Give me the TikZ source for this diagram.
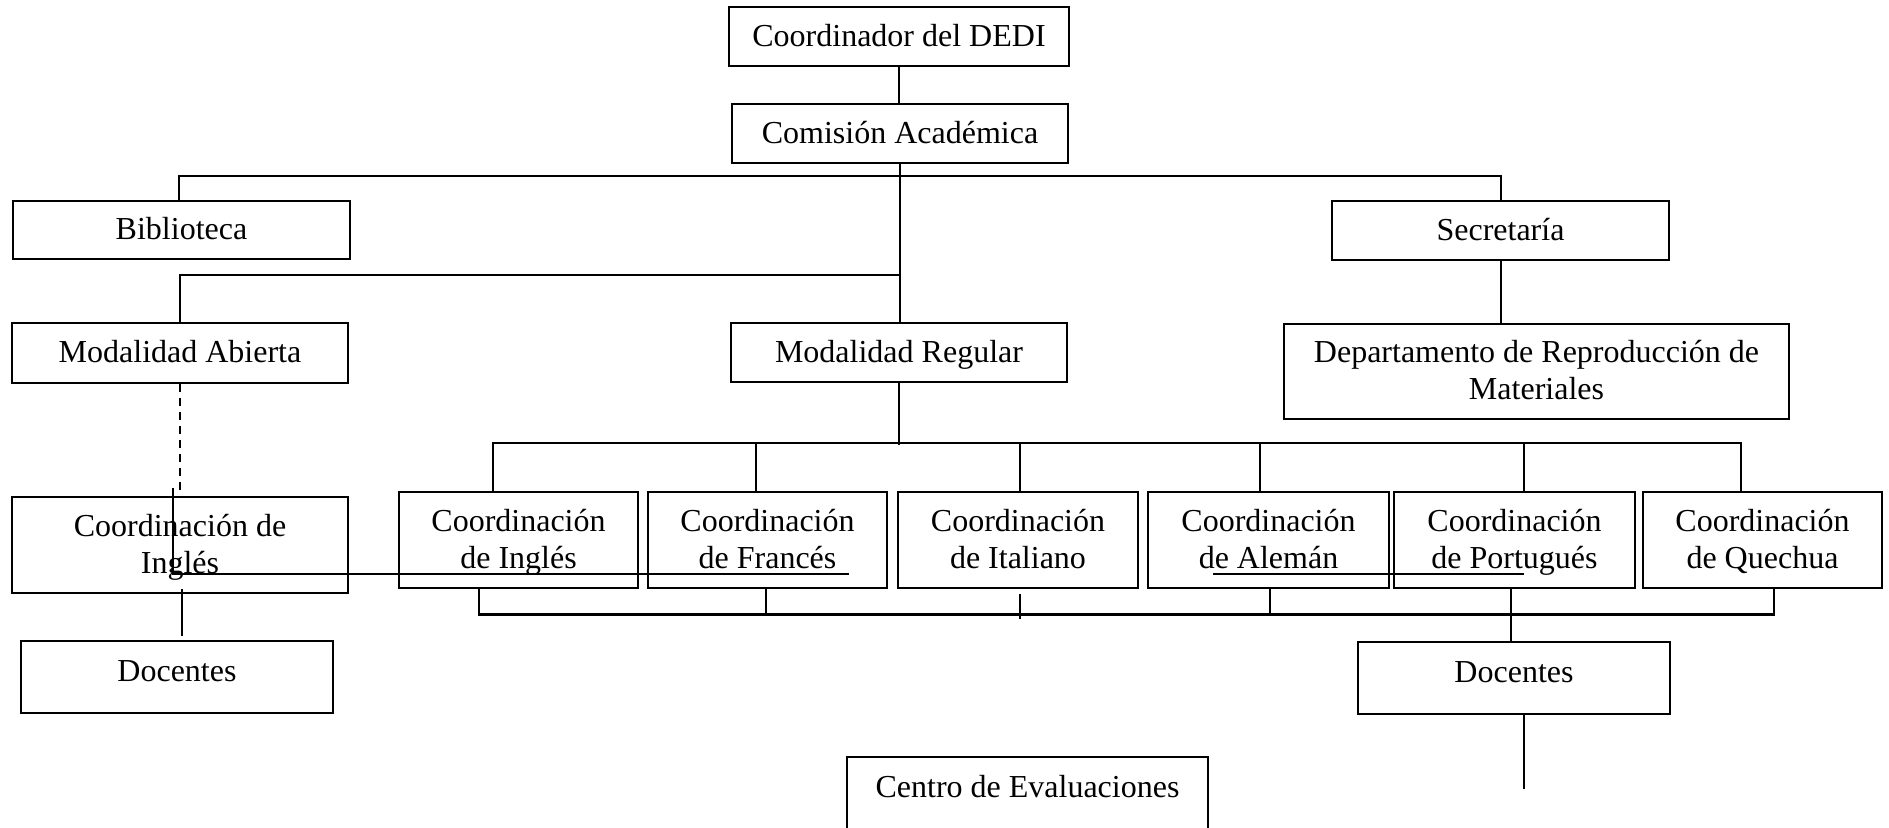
\documentclass[tikz,border=0pt]{standalone}
\usepackage{fontspec}
\setmainfont{Liberation Serif}
\usetikzlibrary{calc}
\newcommand\orgtxt[1]{\begin{tabular}{@{}c@{}}#1\end{tabular}}
\tikzset{
  orgbox/.style={draw, line width=1.2pt, inner sep=0pt,
    font=\fontsize{16pt}{18.5pt}\selectfont,
    text height=20pt, text depth=8.84pt},
  conn/.style={line width=1pt},
  busline/.style={line width=1.3pt},
}
\begin{document}
\begin{tikzpicture}[x=0.5pt,y=-0.5pt]
\useasboundingbox (0,0) rectangle (1889,828);

% boxes
\node[orgbox, minimum width=170pt, minimum height=29.5pt] (dedi) at (899,36.5) {\orgtxt{Coordinador del DEDI}};
\node[orgbox, minimum width=168pt, minimum height=29.5pt] (comision) at (900,133.5) {\orgtxt{Comisión Académica}};
\node[orgbox, minimum width=168.5pt, minimum height=29pt] (biblio) at (181.5,230) {\orgtxt{Biblioteca}};
\node[orgbox, minimum width=168.5pt, minimum height=29.5pt] (secre) at (1500.5,230.5) {\orgtxt{Secretaría}};
\node[orgbox, minimum width=168pt, minimum height=30pt] (abierta) at (180,353) {\orgtxt{Modalidad Abierta}};
\node[orgbox, minimum width=168pt, minimum height=29.5pt] (regular) at (899,352.5) {\orgtxt{Modalidad Regular}};
\node[orgbox, minimum width=252.5pt, minimum height=47.5pt] (depto) at (1536.5,371.5) {\orgtxt{Departamento de Reproducción de\\Materiales}};

\node[orgbox, minimum width=168pt, minimum height=48pt] (coordL) at (180,545) {\orgtxt{Coordinación de\\Inglés}};
\node[orgbox, minimum width=119.5pt, minimum height=48pt] (ci) at (518.5,540) {\orgtxt{Coordinación\\de Inglés}};
\node[orgbox, minimum width=119.5pt, minimum height=48pt] (cf) at (767.5,540) {\orgtxt{Coordinación\\de Francés}};
\node[orgbox, minimum width=120pt, minimum height=48pt] (cit) at (1018,540) {\orgtxt{Coordinación\\de Italiano}};
\node[orgbox, minimum width=120.5pt, minimum height=48pt] (ca) at (1268.5,540) {\orgtxt{Coordinación\\de Alemán}};
\node[orgbox, minimum width=120.5pt, minimum height=48pt] (cp) at (1514.5,540) {\orgtxt{Coordinación\\de Portugués}};
\node[orgbox, minimum width=119.5pt, minimum height=48pt] (cq) at (1762.5,540) {\orgtxt{Coordinación\\de Quechua}};

\node[orgbox, text depth=13.84pt, minimum width=156pt, minimum height=36pt] (docL) at (177,677) {\orgtxt{Docentes}};
\node[orgbox, text depth=13.84pt, minimum width=156pt, minimum height=36pt] (docR) at (1514,678) {\orgtxt{Docentes}};

\node[draw, line width=1.2pt, inner sep=0pt, font=\fontsize{16pt}{18.5pt}\selectfont,
  minimum width=180.5pt, text height=20pt, text depth=31.5pt, anchor=base]
  (centro) at (1027.5,797) {Centro de Evaluaciones};

% top connectors
\draw[conn] (dedi.south) -- (dedi.south |- comision.north);
\draw[conn] (comision.south) -- (comision.south |- regular.north);
\draw[conn] ($(biblio.north)+(-2.5,0)$) -- ++(0,-24) -| (secre.north);
\draw[conn] (abierta.north) -- ++(0,-47) -| (comision.south);
\draw[conn] (secre.south) -- (secre.south |- depto.north);

% upper bus of coordinations
\draw[conn] (regular.south) -- ++(0,62);
\draw[busline] ($(ci.north)+(-25.5,0)$) |- ($(cq.north)+(-21.5,-48)$) -- ($(cq.north)+(-21.5,0)$);
\draw[conn] ($(cf.north)+(-11.5,0)$) -- ++(0,-48);
\draw[conn] ($(cit.north)+(2,0)$) -- ++(0,-48);
\draw[conn] ($(ca.north)+(-8.5,0)$) -- ++(0,-48);
\draw[conn] ($(cp.north)+(9.5,0)$) -- ++(0,-48);

% lower bus
\draw[busline] ($(ci.south)+(-39.5,0)$) |- ($(cq.south)+(11.5,25)$) -- ($(cq.south)+(11.5,0)$);
\draw[conn] ($(cf.south)+(-1.5,0)$) -- ++(0,25);
\draw[conn] ($(ca.south)+(1.5,0)$) -- ++(0,25);
\draw[conn] ($(cp.south)+(-3.5,0)$) -- ($(docR.north)+(-3,0)$);
\draw[conn] ($(cit.south)+(2,5)$) -- ++(0,25);
\draw[conn] ($(docR.south)+(10,0)$) -- ++(0,74);

% left branch
\draw[conn, dash pattern=on 4pt off 3pt] (abierta.south) -- ($(coordL.north)+(0,-2)$);
\draw[conn] ($(coordL.south)+(2,-5)$) -- ($(docL.north)+(5,-4)$);
\coordinate (s1) at (849,574);
\draw[conn] ($(coordL.north)+(-7,-8)$) |- (s1);
\coordinate (s2a) at (1213,574);
\coordinate (s2b) at (1524,574);
\draw[conn] (s2a) -- (s2b);
\end{tikzpicture}
\end{document}
